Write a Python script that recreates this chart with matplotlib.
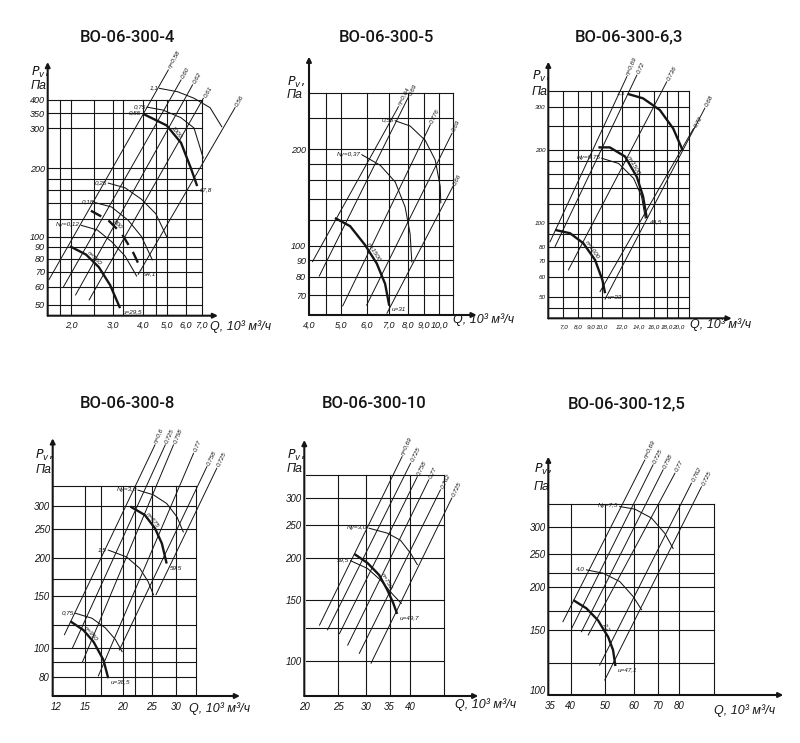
import numpy as np
import matplotlib
matplotlib.use("Agg")
import matplotlib.pyplot as plt
from matplotlib.ticker import NullLocator

W, H = 800, 743
INK = "#151515"
NARROW = ["Liberation Sans Narrow", "Liberation Sans", "DejaVu Sans"]

# ======================= DATA (Q in 10^3 m3/h, P in Pa) =======================
# ---- ВО-06-300-4
P1_TITLE = "ВО-06-300-4"
P1_XTICKS = [2, 3, 4, 5, 6, 7]
P1_XLABELS = ["2,0", "3,0", "4,0", "5,0", "6,0", "7,0"]
P1_YTICKS = [50, 60, 70, 80, 90, 100, 200, 300, 350, 400]
P1_GRID_Q = [1.8, 2.0, 2.5, 3.0, 3.3, 4.0, 4.5, 5.0, 6.0, 7.0]
P1_GRID_P = [50, 60, 70, 80, 90, 100, 120, 140, 160, 180, 200, 300, 350, 400]
P1_CURVE_Q = [[4.0, 5.0, 5.74, 6.31, 6.70],
              [2.42, 2.86, 3.25, 3.63, 3.93],
              [1.98, 2.31, 2.61, 2.91, 3.20]]
P1_CURVE_P = [[347, 309, 259, 200, 167],
              [130, 118, 103, 85, 71],
              [90.6, 83.3, 73.4, 61.1, 48.4]]
P1_CURVE_NAME = ["1000", "800", "n=500"]
P1_CURVE_START = ["0,55", "", ""]
P1_CURVE_END = ["67,8", "94,1", "u=29,5"]
P1_CURVE_DASHED = [False, True, False]
P1_ARC_Q = [[4.67, 5.55, 6.50, 7.58, 8.48],
            [4.14, 4.83, 5.74, 6.50, 7.10],
            [2.86, 3.36, 3.93, 4.51, 5.0],
            [2.53, 2.95, 3.46, 3.93, 4.36],
            [2.21, 2.57, 2.95, 3.36, 3.75]]
P1_ARC_P = [[450, 435, 407, 370, 305],
            [372, 361, 334, 301, 222],
            [172, 164, 146, 126, 100],
            [141, 135, 118, 100, 79],
            [112, 107, 95, 82, 67]]
P1_ARC_NAME = ["1,1", "0,75", "0,25", "0,18", "Nу=0,12"]
P1_LINE_Q = [[1.62, 5.08], [1.86, 5.74], [2.09, 6.41], [2.38, 7.11], [3.81, 9.63]]
P1_LINE_P = [[64.6, 542], [60, 490], [55.3, 466], [52.6, 407], [68.2, 370]]
P1_LINE_NAME = ["η=0,58", "0,60", "0,62", "0,61", "0,56"]

# ---- ВО-06-300-5
P2_TITLE = "ВО-06-300-5"
P2_XTICKS = [4, 5, 6, 7, 8, 9, 10]
P2_XLABELS = ["4,0", "5,0", "6,0", "7,0", "8,0", "9,0", "10,0"]
P2_YTICKS = [70, 80, 90, 100, 200]
P2_GRID_Q = [4.5, 5, 6, 7, 8, 9, 10, 11]
P2_GRID_P = [70, 80, 90, 100, 120, 140, 160, 180, 200, 250, 300]
P2_CURVE_Q = [[4.80, 5.34, 5.93, 6.44, 6.83, 7.03]]
P2_CURVE_P = [[122, 115, 100.5, 88, 76, 65]]
P2_CURVE_NAME = ["n=1500"]
P2_CURVE_START = [""]
P2_CURVE_END = ["u=31"]
P2_CURVE_DASHED = [False]
P2_ARC_Q = [[5.80, 6.60, 7.33, 7.86, 8.14, 8.24],
            [7.33, 8.14, 9.05, 9.71, 10.06, 10.1]]
P2_ARC_P = [[192, 178, 158, 132, 109, 89],
            [245, 236, 213, 185, 153, 136]]
P2_ARC_NAME = ["Nу=0,37", "0,55"]
P2_LINE_Q = [[4.10, 7.50], [4.30, 8.05], [5.07, 9.38], [6.0, 10.93], [6.92, 11.0]]
P2_LINE_P = [[89.2, 271], [80.4, 291], [64.9, 238], [65.3, 224], [61.6, 153]]
P2_LINE_NAME = ["η=0,64", "0,69", "0,776", "0,69", "0,66"]

# ---- ВО-06-300-6,3
P3_TITLE = "ВО-06-300-6,3"
P3_XTICKS = [7, 8, 9, 10, 12, 14, 16, 18, 20]
P3_XLABELS = ["7,0", "8,0", "9,0", "10,0", "12,0", "14,0", "16,0", "18,0", "20,0"]
P3_YTICKS = [50, 60, 70, 80, 100, 200, 300]
P3_GRID_Q = [7, 8, 9, 10, 12, 14, 16, 18, 20, 22]
P3_GRID_P = [45, 50, 60, 70, 80, 90, 100, 120, 140, 160, 180, 200, 250, 300, 350]
P3_CURVE_Q = [[12.6, 14.5, 16.9, 19.1, 20.8],
              [9.64, 10.7, 12.3, 13.7, 14.5, 15.0],
              [6.49, 7.44, 8.40, 9.35, 10.0, 10.25]]
P3_CURVE_P = [[340, 326, 292, 245, 200],
              [205, 205, 188, 155, 129, 105],
              [93.9, 91, 82.8, 70.7, 58.5, 51.6]]
P3_CURVE_NAME = ["", "n=1500", "n=1000"]
P3_CURVE_START = ["1,1", "", ""]
P3_CURVE_END = ["", "49,5", "u=33"]
P3_CURVE_DASHED = [False, False, False]
P3_ARC_Q = [[9.94, 11.6, 13.3, 14.3, 14.8]]
P3_ARC_P = [[185, 176, 153, 129, 105]]
P3_ARC_NAME = ["Nу=0,75"]
P3_LINE_Q = [[6.20, 12.5], [6.49, 13.7], [7.33, 18.0], [9.79, 23.0], [10.25, 25.5]]
P3_LINE_P = [[84.0, 400], [80.2, 406], [64.3, 381], [52.4, 245], [48.8, 297]]
P3_LINE_NAME = ["η=0,69", "0,72", "0,736", "0,72", "0,68"]

# ---- ВО-06-300-8
P4_TITLE = "ВО-06-300-8"
P4_XTICKS = [12, 15, 20, 25, 30]
P4_XLABELS = ["12", "15", "20", "25", "30"]
P4_YTICKS = [80, 100, 150, 200, 250, 300]
P4_GRID_Q = [15, 17, 20, 22, 25, 30, 35]
P4_GRID_P = [80, 90, 100, 120, 150, 170, 200, 250, 300, 350]
P4_CURVE_Q = [[21.2, 23.7, 25.6, 27.0, 28.0],
              [13.4, 14.8, 16.0, 17.25, 17.9]]
P4_CURVE_P = [[298, 279, 252, 224, 192],
              [123, 115, 105, 91.4, 79.4]]
P4_CURVE_NAME = ["n=675", "n=950"]
P4_CURVE_START = ["", ""]
P4_CURVE_END = ["59,5", "u=38,5"]
P4_CURVE_DASHED = [False, False]
P4_ARC_Q = [[22.5, 25.3, 28.0, 30.3, 31.8],
            [17.9, 20.6, 22.8, 24.3, 25.3],
            [13.9, 15.8, 17.5, 18.9, 19.9]]
P4_ARC_P = [[338, 326, 305, 275, 245],
            [213, 202, 185, 167, 151],
            [131, 126, 117, 107, 97.4]]
P4_ARC_NAME = ["Nу=3,0", "1,5", "0,75"]
P4_LINE_Q = [[12.8, 25.6], [13.6, 27.7], [14.7, 29.5], [16.6, 34.4], [19.5, 38.1], [25.8, 41.1]]
P4_LINE_P = [[111, 479], [100, 479], [90, 479], [80.8, 449], [98.7, 405], [151, 400]]
P4_LINE_NAME = ["η=0,6", "0,725", "0,758", "0,77", "0,758", "0,725"]

# ---- ВО-06-300-10
P5_TITLE = "ВО-06-300-10"
P5_XTICKS = [20, 25, 30, 35, 40]
P5_XLABELS = ["20", "25", "30", "35", "40"]
P5_YTICKS = [100, 150, 200, 250, 300]
P5_GRID_Q = [25, 30, 35, 40, 50]
P5_GRID_P = [100, 125, 150, 200, 250, 300, 350]
P5_CURVE_Q = [[27.8, 30.3, 32.7, 34.5, 35.9, 36.8]]
P5_CURVE_P = [[205, 193, 178, 161, 147, 137]]
P5_CURVE_NAME = ["n=750"]
P5_CURVE_START = [""]
P5_CURVE_END = ["u=49,7"]
P5_CURVE_DASHED = [False]
P5_ARC_Q = [[27.1, 30.3, 33.0, 35.6, 37.8],
            [30.6, 34.5, 37.6, 40.2, 42.0]]
P5_ARC_P = [[196, 186, 172, 157, 147],
            [244, 236, 225, 206, 191]]
P5_ARC_NAME = ["59,5", "Nу=3,0"]
P5_LINE_Q = [[22.1, 38.0], [23.3, 40.2], [25.2, 42.0], [26.6, 45.3], [28.7, 48.9], [31.0, 52.7]]
P5_LINE_P = [[127, 395], [123, 378], [120, 345], [111, 338], [105, 316], [98.3, 299]]
P5_LINE_NAME = ["η=0,69", "0,725", "0,758", "0,77", "0,762", "0,725"]

# ---- ВО-06-300-12,5
P6_TITLE = "ВО-06-300-12,5"
P6_XTICKS = [35, 40, 50, 60, 70, 80]
P6_XLABELS = ["35", "40", "50", "60", "70", "80"]
P6_YTICKS = [100, 150, 200, 250, 300]
P6_GRID_Q = [40, 50, 60, 70, 80, 100]
P6_GRID_P = [120, 150, 170, 200, 220, 250, 300, 350]
P6_CURVE_Q = [[40.7, 44.3, 47.7, 50.9, 52.5, 53.3]]
P6_CURVE_P = [[183.5, 173.5, 160, 143, 131, 117.6]]
P6_CURVE_NAME = ["2,2"]
P6_CURVE_START = [""]
P6_CURVE_END = ["u=47,1"]
P6_CURVE_DASHED = [False]
P6_ARC_Q = [[54.8, 60.4, 67.2, 73.1, 77.1],
            [44.3, 49.3, 54.8, 59.7, 63.0]]
P6_ARC_P = [[345, 339, 319, 288, 260],
            [225, 220, 208, 188, 172]]
P6_ARC_NAME = ["Nу=7,5", "4,0"]
P6_LINE_Q = [[38.1, 64.3], [40.3, 67.8], [42.9, 72.3], [44.8, 78.0], [48.2, 86.7], [49.8, 92.4]]
P6_LINE_P = [[158.6, 472], [151.6, 457], [148.2, 442], [145, 432], [118.3, 404], [107, 394]]
P6_LINE_NAME = ["η=0,69", "0,725", "0,758", "0,77", "0,762", "0,725"]


def pack(p):
    g = globals()
    keys = ["TITLE", "XTICKS", "XLABELS", "YTICKS", "GRID_Q", "GRID_P", "CURVE_Q", "CURVE_P",
            "CURVE_NAME", "CURVE_START", "CURVE_END", "CURVE_DASHED", "ARC_Q", "ARC_P", "ARC_NAME",
            "LINE_Q", "LINE_P", "LINE_NAME"]
    return {k: g[p + "_" + k] for k in keys}


# ======================= LAYOUT (pixels) =======================
LAYOUT = {
    "P1": dict(box=(47.7, 218, 62, 315.7), xlim=(1.60, 8.18), ylim=(44.8, 588), title=(127, 38),
               q=(210, 327), pv=(31, 72), pa=(31, 86), tfs=6.5),
    "P2": dict(box=(309, 476.7, 56.7, 315), xlim=(4.0, 13.0), ylim=(60.8, 388), title=(386, 37),
               q=(453, 320), pv=(287, 82), pa=(287, 95), tfs=6.5),
    "P3": dict(box=(548.3, 731.7, 61.7, 318.3), xlim=(6.10, 32.6), ylim=(40.7, 461), title=(629, 37),
               q=(690, 325), pv=(532, 76), pa=(532, 92), tfs=4.6),
    "P4": dict(box=(52.7, 240, 438.3, 696), xlim=(11.7, 49.1), ylim=(69.2, 504), title=(127, 404),
               q=(189, 709), pv=(35, 455), pa=(36, 470), tfs=7),
    "P5": dict(box=(304.3, 478.3, 440, 696), xlim=(20.2, 62.7), ylim=(78.8, 442), title=(374, 404),
               q=(455, 705), pv=(287, 455), pa=(287, 469), tfs=7),
    "P6": dict(box=(548.3, 783.3, 456.7, 695), xlim=(34.7, 156), ylim=(96.7, 483), title=(627, 404),
               q=(714, 711), pv=(534, 469), pa=(534, 487), tfs=7),
}

fig = plt.figure(figsize=(W / 100, H / 100), dpi=100)
fig.patch.set_facecolor("white")

LFS = 4.6  # small in-chart label size


def ftext(x, y, s, **kw):
    fig.text(x / W, 1 - y / H, s, **kw)


def ang(ax, q0, p0, q1, p1):
    a, b = ax.transData.transform([(q0, p0), (q1, p1)])
    return np.degrees(np.arctan2(b[1] - a[1], b[0] - a[0]))


def small(ax, s, xy, off, rot, ha, va):
    ax.annotate(s, xy=xy, xytext=off, textcoords="offset points", rotation=rot,
                rotation_mode="anchor", ha=ha, va=va, fontsize=LFS, fontstyle="italic",
                family=NARROW, color=INK, annotation_clip=False, zorder=6)


def panel(d, lay):
    l, r, t, b = lay["box"]
    ax = fig.add_axes([l / W, 1 - b / H, (r - l) / W, (b - t) / H])
    ax.set_xscale("log")
    ax.set_yscale("log")
    ax.set_xlim(*lay["xlim"])
    ax.set_ylim(*lay["ylim"])
    ax.patch.set_alpha(0)
    for s in ax.spines.values():
        s.set_visible(False)
    ax.set_xticks(d["XTICKS"])
    ax.set_xticklabels(d["XLABELS"])
    ax.set_yticks(d["YTICKS"])
    ax.set_yticklabels([str(v) for v in d["YTICKS"]])
    ax.xaxis.set_minor_locator(NullLocator())
    ax.yaxis.set_minor_locator(NullLocator())
    ax.tick_params(axis="both", length=0, labelsize=lay["tfs"], colors=INK)
    ax.tick_params(axis="x", pad=4)
    ax.tick_params(axis="y", pad=2)
    for lab in ax.get_xticklabels() + ax.get_yticklabels():
        lab.set_fontstyle("italic")
        lab.set_family(NARROW)

    x0, y0 = lay["xlim"][0], lay["ylim"][0]
    qmax, pmax = max(d["GRID_Q"]), max(d["GRID_P"])
    for q in d["GRID_Q"]:
        ax.plot([q, q], [y0, pmax], color=INK, lw=0.8, zorder=1)
    for p in d["GRID_P"]:
        ax.plot([x0, qmax], [p, p], color=INK, lw=0.8, zorder=1)

    arrow = dict(arrowstyle="-|>", color=INK, lw=1.5, mutation_scale=7, shrinkA=0, shrinkB=0)
    ax.annotate("", xy=(1, 0), xytext=(0, 0), xycoords="axes fraction", arrowprops=arrow,
                annotation_clip=False)
    ax.annotate("", xy=(0, 1), xytext=(0, 0), xycoords="axes fraction", arrowprops=arrow,
                annotation_clip=False)

    # straight (efficiency) lines
    for q, p, name in zip(d["LINE_Q"], d["LINE_P"], d["LINE_NAME"]):
        ax.plot(q, p, color=INK, lw=0.7, clip_on=False, zorder=2)
        th = ang(ax, q[0], p[0], q[1], p[1])
        c, s = np.cos(np.radians(th)), np.sin(np.radians(th))
        small(ax, name, (q[1], p[1]), (1.5 * c, 1.5 * s), th, "left", "center")

    # thin power curves
    for q, p, name in zip(d["ARC_Q"], d["ARC_P"], d["ARC_NAME"]):
        ax.plot(q, p, color=INK, lw=0.75, clip_on=False, zorder=3)
        small(ax, name, (q[0], p[0]), (-1, 0.5), 0, "right", "center")

    # thick pressure curves
    for q, p, name, st, en, dash in zip(d["CURVE_Q"], d["CURVE_P"], d["CURVE_NAME"],
                                        d["CURVE_START"], d["CURVE_END"], d["CURVE_DASHED"]):
        ls = (0, (5, 3.5)) if dash else "-"
        ax.plot(q, p, color=INK, lw=1.7, ls=ls, clip_on=False, zorder=4,
                solid_capstyle="butt", solid_joinstyle="round")
        if name:
            i = len(q) // 2 - 1
            th = ang(ax, q[i], p[i], q[i + 1], p[i + 1])
            xy = (np.sqrt(q[i] * q[i + 1]), np.sqrt(p[i] * p[i + 1]))
            small(ax, name, xy, (-np.sin(np.radians(th)) * 0.5, np.cos(np.radians(th)) * 0.5),
                  th, "center", "bottom")
        if st:
            small(ax, st, (q[0], p[0]), (-1.5, 1), 0, "right", "center")
        if en:
            small(ax, en, (q[-1], p[-1]), (2, -1), 0, "left", "top")

    ftext(*lay["title"], d["TITLE"], ha="center", va="center", fontsize=12,
          family=["Roboto", "DejaVu Sans"], weight="medium", color=INK)
    ftext(*lay["q"], "Q, 10³ м³/ч", ha="left", va="center", fontsize=9,
          fontstyle="italic", family=NARROW, color=INK)
    ftext(*lay["pv"], r"$P_{v}$,", ha="left", va="center", fontsize=9, color=INK)
    ftext(*lay["pa"], "Па", ha="left", va="center", fontsize=9, fontstyle="italic",
          family=NARROW, color=INK)
    return ax


for key in ["P1", "P2", "P3", "P4", "P5", "P6"]:
    panel(pack(key), LAYOUT[key])

fig.savefig("out.png", dpi=100, facecolor="white")
